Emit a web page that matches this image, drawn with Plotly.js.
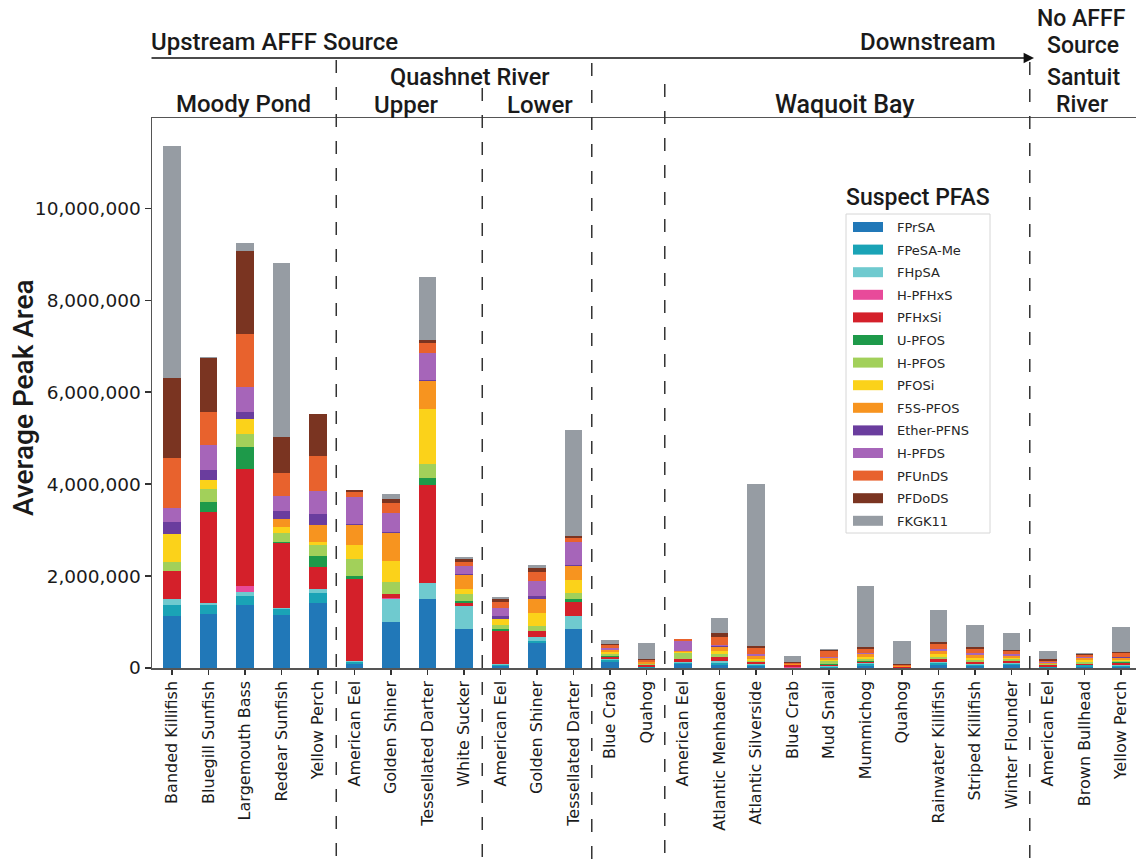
<!DOCTYPE html>
<html>
<head>
<meta charset="utf-8">
<script src="https://cdn.plot.ly/plotly-3.0.1.min.js"></script>
<style>
  html, body { margin: 0; padding: 0; background: #ffffff; }
  #chart { width: 1136px; height: 865px; }
</style>
</head>
<body>
<div id="chart"></div>
<script>
// Fish and shellfish sampled, grouped by site (upstream to downstream)
const categories = [
  'Banded Killifish', 'Bluegill Sunfish', 'Largemouth Bass', 'Redear Sunfish', 'Yellow Perch',
  'American Eel', 'Golden Shiner', 'Tessellated Darter', 'White Sucker',
  'American Eel', 'Golden Shiner', 'Tessellated Darter',
  'Blue Crab', 'Quahog',
  'American Eel', 'Atlantic Menhaden', 'Atlantic Silverside', 'Blue Crab', 'Mud Snail',
  'Mummichog', 'Quahog', 'Rainwater Killifish', 'Striped Killifish', 'Winter Flounder',
  'American Eel', 'Brown Bullhead', 'Yellow Perch'
];

// Site of each sample (used for the dashed separators)
const sites = [
  'Moody Pond', 'Moody Pond', 'Moody Pond', 'Moody Pond', 'Moody Pond',
  'Quashnet Upper', 'Quashnet Upper', 'Quashnet Upper', 'Quashnet Upper',
  'Quashnet Lower', 'Quashnet Lower', 'Quashnet Lower',
  'Waquoit Inner', 'Waquoit Inner',
  'Waquoit Bay', 'Waquoit Bay', 'Waquoit Bay', 'Waquoit Bay', 'Waquoit Bay',
  'Waquoit Bay', 'Waquoit Bay', 'Waquoit Bay', 'Waquoit Bay', 'Waquoit Bay',
  'Santuit River', 'Santuit River', 'Santuit River'
];

// Average peak area of each suspect PFAS
const FPrSA     = [1130000, 1170000, 1380000, 1150000, 1420000, 90000, 990000, 1500000, 840000, 40000, 550000, 840000, 120000, 10000, 80000, 60000, 40000, 10000, 10000, 50000, 5000, 70000, 40000, 60000, 10000, 30000, 30000];
const FPeSA_Me  = [240000, 200000, 190000, 140000, 220000, 40000, 20000, 0, 0, 20000, 40000, 0, 60000, 10000, 30000, 50000, 30000, 0, 20000, 30000, 0, 30000, 20000, 30000, 10000, 30000, 20000];
const FHpSA     = [120000, 50000, 80000, 20000, 80000, 30000, 480000, 340000, 510000, 30000, 80000, 290000, 20000, 10000, 20000, 40000, 20000, 0, 10000, 20000, 5000, 20000, 20000, 10000, 10000, 10000, 10000];
const H_PFHxS   = [0, 0, 140000, 0, 0, 0, 30000, 0, 0, 0, 0, 0, 0, 0, 0, 10000, 0, 10000, 0, 0, 0, 10000, 0, 10000, 0, 0, 10000];
const PFHxSi    = [610000, 1980000, 2530000, 1410000, 480000, 1770000, 100000, 2130000, 60000, 710000, 130000, 310000, 50000, 30000, 60000, 80000, 30000, 40000, 20000, 40000, 10000, 60000, 40000, 40000, 30000, 10000, 40000];
const U_PFOS    = [0, 220000, 480000, 20000, 230000, 60000, 0, 170000, 50000, 50000, 0, 50000, 20000, 0, 10000, 10000, 10000, 0, 20000, 10000, 0, 10000, 10000, 10000, 0, 10000, 10000];
const H_PFOS    = [200000, 280000, 280000, 200000, 240000, 390000, 240000, 290000, 150000, 80000, 110000, 150000, 40000, 20000, 130000, 50000, 30000, 10000, 80000, 40000, 10000, 40000, 40000, 30000, 20000, 40000, 30000];
const PFOSi     = [610000, 180000, 340000, 120000, 60000, 290000, 470000, 1200000, 100000, 130000, 280000, 270000, 40000, 10000, 10000, 70000, 40000, 0, 20000, 50000, 0, 60000, 50000, 30000, 10000, 40000, 30000];
const F5S_PFOS  = [0, 0, 0, 180000, 380000, 440000, 600000, 620000, 310000, 0, 320000, 310000, 40000, 30000, 20000, 90000, 60000, 10000, 40000, 60000, 10000, 60000, 60000, 40000, 20000, 40000, 40000];
const Ether_PFNS= [270000, 230000, 140000, 180000, 230000, 30000, 30000, 20000, 30000, 60000, 50000, 30000, 10000, 0, 10000, 10000, 10000, 0, 0, 10000, 0, 10000, 10000, 10000, 0, 0, 10000];
const H_PFDS    = [310000, 530000, 560000, 310000, 510000, 580000, 420000, 590000, 170000, 180000, 340000, 500000, 30000, 20000, 220000, 40000, 40000, 10000, 30000, 20000, 10000, 40000, 30000, 30000, 10000, 20000, 20000];
const PFUnDS    = [1080000, 730000, 1150000, 500000, 770000, 110000, 200000, 210000, 90000, 140000, 190000, 70000, 70000, 40000, 40000, 170000, 120000, 20000, 120000, 80000, 20000, 110000, 100000, 70000, 40000, 60000, 70000];
const PFDoDS    = [1730000, 1180000, 1800000, 800000, 900000, 50000, 90000, 70000, 50000, 70000, 80000, 50000, 30000, 10000, 10000, 80000, 50000, 10000, 30000, 40000, 10000, 50000, 40000, 20000, 30000, 20000, 30000];
const FKGK11    = [5060000, 20000, 180000, 3770000, 0, 0, 110000, 1370000, 60000, 40000, 70000, 2310000, 80000, 350000, 0, 320000, 3520000, 150000, 10000, 1330000, 510000, 690000, 470000, 380000, 180000, 20000, 550000];

const seriesNames = ['FPrSA', 'FPeSA-Me', 'FHpSA', 'H-PFHxS', 'PFHxSi', 'U-PFOS', 'H-PFOS',
  'PFOSi', 'F5S-PFOS', 'Ether-PFNS', 'H-PFDS', 'PFUnDS', 'PFDoDS', 'FKGK11'];
const seriesValues = [FPrSA, FPeSA_Me, FHpSA, H_PFHxS, PFHxSi, U_PFOS, H_PFOS,
  PFOSi, F5S_PFOS, Ether_PFNS, H_PFDS, PFUnDS, PFDoDS, FKGK11];
const seriesColors = ['#2178b8', '#1aa3b6', '#6fcacf', '#e84a9a', '#d4202a', '#1e9a4a', '#a2d05a',
  '#fbd21a', '#f7941f', '#6a3d9e', '#a665b9', '#e8622d', '#7a3421', '#969ca3'];

const yTicks = [0, 2000000, 4000000, 6000000, 8000000, 10000000];

// ---- layout helpers: pixel position inside the 1136x865 page -> paper coords
const W = 1136, H = 865;
const M = { l: 152, r: 0, t: 118, b: 197 };
const PW = W - M.l - M.r, PH = H - M.t - M.b;
const px = v => (v - M.l) / PW;
const py = v => (H - M.b - v) / PH;

const xIdx = categories.map((_, i) => i);

const traces = seriesNames.map((name, k) => ({
  type: 'bar',
  name: name,
  x: xIdx,
  y: seriesValues[k],
  width: 0.49,
  marker: { color: seriesColors[k], line: { width: 0 } },
  showlegend: false,
  hoverinfo: 'skip'
}));

// dashed separators between sites
const dashTopPx = { 'Moody Pond': 60, 'Quashnet Upper': 88, 'Quashnet Lower': 63, 'Waquoit Inner': 84, 'Waquoit Bay': 62 };
const shapes = [];
for (let i = 1; i < sites.length; i++) {
  if (sites[i] !== sites[i - 1]) {
    shapes.push({
      type: 'line', xref: 'x', yref: 'paper',
      x0: i - 0.5, x1: i - 0.5,
      y0: py(dashTopPx[sites[i - 1]]), y1: py(H),
      line: { color: '#333333', width: 1.5, dash: '13px,14px' },
      layer: 'above'
    });
  }
}

// legend frame, swatches and labels
const legendBox = { left: 846, top: 214, right: 990, bottom: 533 };
shapes.push({
  type: 'rect', xref: 'paper', yref: 'paper',
  x0: px(legendBox.left), x1: px(legendBox.right),
  y0: py(legendBox.bottom), y1: py(legendBox.top),
  line: { color: '#d6d6d6', width: 1 }, fillcolor: '#ffffff', layer: 'above'
});
const rowTop = 227, rowStep = 22.6;
const annotations = [];
seriesNames.forEach((name, k) => {
  const cy = rowTop + rowStep * k;
  shapes.push({
    type: 'rect', xref: 'paper', yref: 'paper',
    x0: px(853), x1: px(883), y0: py(cy + 5), y1: py(cy - 5),
    line: { width: 0 }, fillcolor: seriesColors[k], layer: 'above'
  });
  annotations.push({
    xref: 'paper', yref: 'paper', x: px(895), y: py(cy + 0.5),
    xanchor: 'left', yanchor: 'middle', showarrow: false, text: name,
    font: { family: 'DejaVu Sans', size: 13, color: '#262626' }
  });
});

const headFont = { family: 'Roboto', size: 24, color: '#1a1a1a', weight: 500 };
function head(text, x, y, anchor, size, angle) {
  annotations.push({
    xref: 'paper', yref: 'paper', x: px(x), y: py(y),
    xanchor: anchor || 'center', yanchor: 'middle', showarrow: false,
    textangle: angle || 0,
    text: text, font: Object.assign({}, headFont, size ? { size: size } : {})
  });
}
head('Suspect PFAS', 918, 197, 'center', 23);
head('Upstream AFFF Source', 149, 42, 'left');
head('Downstream', 998, 42, 'right');
head('No AFFF', 1081, 18.5, 'center', 23);
head('Source', 1083, 45.5, 'center', 23);
head('Moody Pond', 243, 104.5);
head('Quashnet River', 470, 77, 'center', 23.5);
head('Upper', 406, 105);
head('Lower', 540, 105);
head('Waquoit Bay', 845, 104.5, 'center', 25);
head('Santuit', 1083, 77.5, 'center', 23);
head('River', 1082, 104.5, 'center', 23);
// y-axis title
head('Average Peak Area', 24, 398, 'center', 28, -90);

// upstream -> downstream arrow
annotations.push({
  xref: 'paper', yref: 'paper', x: px(1034), y: py(58),
  ax: -(1034 - 150), ay: 0, axref: 'pixel', ayref: 'pixel',
  text: '', showarrow: true, arrowhead: 2, arrowsize: 1.3, arrowwidth: 1.6,
  arrowcolor: '#111111'
});

const layout = {
  width: W, height: H,
  margin: M,
  paper_bgcolor: '#ffffff', plot_bgcolor: '#ffffff',
  barmode: 'stack',
  showlegend: false,
  font: { family: 'DejaVu Sans', color: '#1a1a1a' },
  xaxis: {
    range: [-0.548, 26.41],
    tickmode: 'array', tickvals: xIdx, ticktext: categories,
    tickangle: -90,
    tickfont: { family: 'DejaVu Sans', size: 16, color: '#1a1a1a' },
    ticks: 'outside', ticklen: 5, tickwidth: 1.2, tickcolor: '#333',
    showline: true, linecolor: '#555', linewidth: 1.5, mirror: true,
    showgrid: false, zeroline: false, fixedrange: true
  },
  yaxis: {
    range: [0, 11960000],
    tickmode: 'array', tickvals: yTicks,
    tickformat: ',d',
    tickfont: { family: 'DejaVu Sans', size: 18.5, color: '#1a1a1a' },
    ticks: 'outside', ticklen: 6, tickwidth: 1.2, tickcolor: '#333',
    showline: true, linecolor: '#555', linewidth: 1.5,
    showgrid: false, zeroline: false, fixedrange: true
  },
  shapes: shapes,
  annotations: annotations
};

Plotly.newPlot('chart', traces, layout, { staticPlot: true, displayModeBar: false });
</script>
</body>
</html>
